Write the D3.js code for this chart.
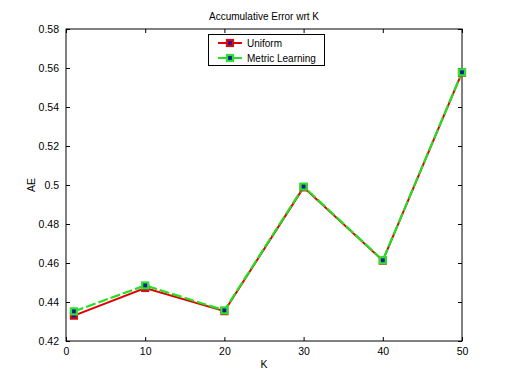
<!DOCTYPE html>
<html><head><meta charset="utf-8">
<script src="https://cdn.jsdelivr.net/npm/d3@7"></script>
<style>body{margin:0;background:#fff}svg{display:block}text{font-family:"Liberation Sans",Arial,sans-serif;fill:#000}</style>
</head><body><svg id="c" width="510" height="384"></svg>
<script>
const kValues = [1, 10, 20, 30, 40, 50];
const uniform = [0.433, 0.4472, 0.4353, 0.4988, 0.4612, 0.5576];
const metricLearning = [0.4352, 0.4485, 0.4357, 0.4992, 0.4614, 0.5578];
const xTicks = [0, 10, 20, 30, 40, 50];
const yTicks = [0.42, 0.44, 0.46, 0.48, 0.5, 0.52, 0.54, 0.56, 0.58];
const seriesNames = ["Uniform", "Metric Learning"];

const svg = d3.select("#c");
const L = 66, R = 462, T = 29, B = 341;
const x = d3.scaleLinear().domain([0, 50]).range([L, R]);
const y = d3.scaleLinear().domain([0.42, 0.58]).range([B, T]);
const fmtY = d => d3.format("")(+d.toFixed(2));

svg.append("rect").attr("x", L).attr("y", T).attr("width", R - L).attr("height", B - T)
  .attr("fill", "#fff").attr("stroke", "#000").attr("stroke-width", 1);

const tl = 4;
const gx = svg.append("g").attr("transform", `translate(0,${B})`)
  .call(d3.axisBottom(x).tickValues(xTicks).tickSizeInner(-tl).tickSizeOuter(0).tickPadding(7).tickFormat(d3.format("d")));
const gxt = svg.append("g").attr("transform", `translate(0,${T})`)
  .call(d3.axisTop(x).tickValues(xTicks).tickSizeInner(-tl).tickSizeOuter(0).tickFormat(""));
const gy = svg.append("g").attr("transform", `translate(${L},0)`)
  .call(d3.axisLeft(y).tickValues(yTicks).tickSizeInner(-tl).tickSizeOuter(0).tickPadding(7).tickFormat(fmtY));
const gyr = svg.append("g").attr("transform", `translate(${R},0)`)
  .call(d3.axisRight(y).tickValues(yTicks).tickSizeInner(-tl).tickSizeOuter(0).tickFormat(""));
[gx, gxt, gy, gyr].forEach(g => {
  g.select(".domain").remove();
  g.selectAll("line").attr("stroke", "#000");
  g.selectAll("text").style("font-family", '"Liberation Sans",Arial,sans-serif').style("font-size", "10.5px");
});

const line = d3.line().x(d => x(d[0])).y(d => y(d[1]));
const uData = kValues.map((k, i) => [k, uniform[i]]);
const mData = kValues.map((k, i) => [k, metricLearning[i]]);

svg.append("path").datum(uData).attr("d", line).attr("fill", "none")
  .attr("stroke", "#e00000").attr("stroke-width", 2);
svg.append("path").datum(mData).attr("d", line).attr("fill", "none")
  .attr("stroke", "#22e022").attr("stroke-width", 2.2).attr("stroke-dasharray", "10,3");

function markers(data, edge, face) {
  svg.append("g").selectAll("rect").data(data).join("rect")
    .attr("x", d => x(d[0]) - 3).attr("y", d => y(d[1]) - 3)
    .attr("width", 6).attr("height", 6)
    .attr("fill", face).attr("stroke", edge).attr("stroke-width", 2.2);
}
markers(uData, "#d01010", "#3010a0");
markers(mData, "#30e030", "#0a1aa0");

svg.append("text").attr("x", (L + R) / 2).attr("y", 20).attr("text-anchor", "middle")
  .style("font-size", "10px").text("Accumulative Error wrt K");
svg.append("text").attr("x", (L + R) / 2).attr("y", 368).attr("text-anchor", "middle")
  .style("font-size", "10.5px").text("K");
svg.append("text").attr("transform", `translate(35,${(T + B) / 2}) rotate(-90)`).attr("text-anchor", "middle")
  .style("font-size", "10.5px").text("AE");

const lg = svg.append("g");
lg.append("rect").attr("x", 208.5).attr("y", 34.5).attr("width", 116).attr("height", 31)
  .attr("fill", "#fff").attr("stroke", "#000").attr("stroke-width", 1);
const legendStyle = [
  {stroke: "#e00000", edge: "#d01010", face: "#3010a0", yy: 43},
  {stroke: "#22e022", edge: "#30e030", face: "#0a1aa0", yy: 58}
];
seriesNames.forEach((name, i) => {
  const s = legendStyle[i];
  lg.append("line").attr("x1", 218).attr("x2", 242).attr("y1", s.yy).attr("y2", s.yy)
    .attr("stroke", s.stroke).attr("stroke-width", 2);
  lg.append("rect").attr("x", 227).attr("y", s.yy - 3).attr("width", 6).attr("height", 6)
    .attr("fill", s.face).attr("stroke", s.edge).attr("stroke-width", 2.2);
  lg.append("text").attr("x", 247).attr("y", s.yy + 3.5).style("font-size", "10px").text(name);
});
</script></body></html>
